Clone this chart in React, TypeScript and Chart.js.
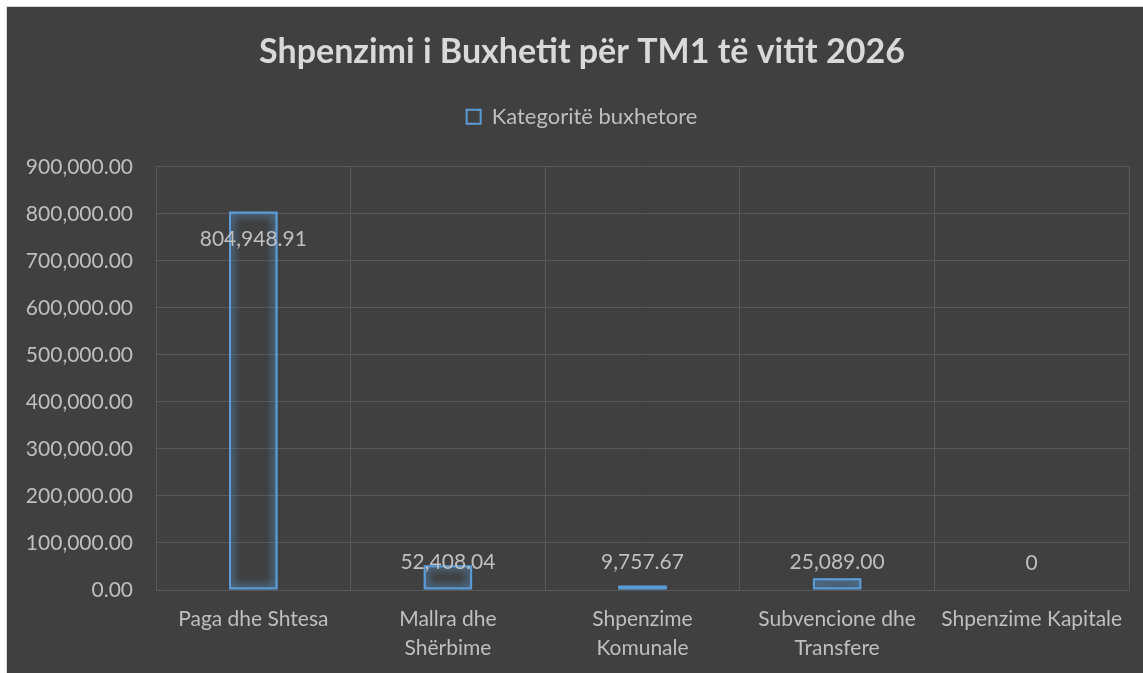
import React, { useEffect, useRef } from "react";
import { Chart, registerables, layouts } from "chart.js";

Chart.register(...registerables);

const TITLE = "Shpenzimi i Buxhetit për TM1 të vitit 2026";
const SERIES_NAME = "Kategoritë buxhetore";
const categories: (string | string[])[] = [
  "Paga dhe Shtesa",
  ["Mallra dhe", "Shërbime"],
  ["Shpenzime", "Komunale"],
  ["Subvencione dhe", "Transfere"],
  "Shpenzime Kapitale",
];
const values: number[] = [804948.91, 52408.04, 9757.67, 25089.0, 0];
const yMin = 0;
const yMax = 900000;
const yStep = 100000;

const FONT = "Lato, 'Noto Sans', sans-serif";
const BLUE = "#5B9BD5";
const TEXT = "#bfbfbf";
const GRID = "#595959";

const fmt = (v: number) =>
  v === 0
    ? "0"
    : v.toLocaleString("en-US", { minimumFractionDigits: 2, maximumFractionDigits: 2 });

const makeSpacer = (position: string, size: number, fullSize: boolean, weight: number) => ({
  position,
  weight,
  fullSize,
  options: { stack: undefined, stackWeight: 1, fullSize, position, weight },
  left: 0,
  top: 0,
  right: 0,
  bottom: 0,
  width: 0,
  height: 0,
  isHorizontal() {
    return position === "top" || position === "bottom";
  },
  update(maxWidth: number, maxHeight: number) {
    if (position === "top" || position === "bottom") {
      this.width = maxWidth;
      this.height = size;
    } else {
      this.width = size;
      this.height = maxHeight;
    }
  },
  getPadding() {
    return { left: 0, right: 0, top: 0, bottom: 0 };
  },
  draw() {},
});

const spacers = {
  id: "spacers",
  beforeInit(chart: any) {
    layouts.addBox(chart, makeSpacer("top", 29, true, 10) as any);
    layouts.addBox(chart, makeSpacer("right", 28, false, 10) as any);
  },
};

const glowAndLabels = {
  id: "glowAndLabels",
  beforeDatasetsDraw(chart: any) {
    const ctx = chart.ctx;
    ctx.save();
    ctx.shadowColor = "rgba(91,155,213,1)";
    ctx.shadowBlur = 10;
  },
  afterDatasetsDraw(chart: any) {
    const ctx = chart.ctx;
    const meta = chart.getDatasetMeta(0);
    // second glow pass to intensify the soft edge
    meta.data.forEach((bar: any) => bar.draw(ctx, chart.chartArea));
    ctx.restore();
    const data = chart.data.datasets[0].data as number[];
    ctx.save();
    ctx.font = `21px ${FONT}`;
    ctx.fillStyle = TEXT;
    ctx.textAlign = "center";
    ctx.textBaseline = "middle";
    meta.data.forEach((bar: any, i: number) => {
      const y = Math.min(bar.y + 28, bar.base - 27);
      ctx.fillText(fmt(data[i]), bar.x, y);
    });
    ctx.restore();
  },
};

export default function App() {
  const ref = useRef<HTMLCanvasElement | null>(null);
  useEffect(() => {
    if (!ref.current) return;
    const chart = new Chart(ref.current, {
      type: "bar",
      data: {
        labels: categories,
        datasets: [
          {
            label: SERIES_NAME,
            data: values,
            backgroundColor: "rgba(0,0,0,0)",
            borderColor: BLUE,
            borderWidth: 2,
            borderSkipped: false,
            barPercentage: 0.25,
            categoryPercentage: 1,
          },
        ],
      },
      options: {
        responsive: false,
        animation: false,
        layout: { padding: 0 },
        plugins: {
          title: {
            display: true,
            text: TITLE,
            color: "#d9d9d9",
            font: { family: FONT, size: 34, weight: "bold", lineHeight: 1.2 },
            padding: { top: 25, bottom: 23 },
          },
          legend: {
            display: true,
            position: "top",
            labels: {
              color: TEXT,
              font: { family: FONT, size: 22 },
              boxWidth: 14,
              boxHeight: 14,
              padding: 10,
            },
          },
          tooltip: { enabled: false },
        },
        scales: {
          x: {
            grid: { color: GRID, lineWidth: 1, drawTicks: false, offset: true },
            border: { display: false },
            ticks: {
              color: TEXT,
              font: { family: FONT, size: 21, lineHeight: 1.38 },
              padding: 15,
              maxRotation: 0,
              autoSkip: false,
            },
            afterFit(scale: any) {
              scale.height = 83;
            },
          },
          y: {
            min: yMin,
            max: yMax,
            grid: { color: GRID, lineWidth: 1, drawTicks: false },
            border: { display: false },
            ticks: {
              stepSize: yStep,
              color: TEXT,
              font: { family: FONT, size: 21 },
              padding: 23,
              callback: (v: any) =>
                Number(v).toLocaleString("en-US", { minimumFractionDigits: 2, maximumFractionDigits: 2 }),
            },
            afterFit(scale: any) {
              scale.width = 149;
            },
          },
        },
      },
      plugins: [spacers, glowAndLabels],
    });
    return () => chart.destroy();
  }, []);
  return (
    <div style={{ position: "fixed", inset: 0, overflow: "hidden", background: "#ffffff" }}>
      <div
        style={{
          position: "absolute",
          left: 6,
          top: 6,
          width: 1150,
          height: 666,
          border: "1px solid #d9d9d9",
          background: "#404040",
        }}
      >
        <canvas ref={ref} width={1150} height={666} style={{ display: "block", width: 1150, height: 666 }} />
      </div>
    </div>
  );
}
